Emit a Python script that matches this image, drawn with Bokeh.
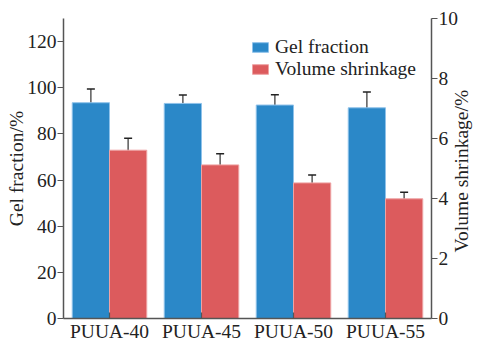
import math
from bokeh.plotting import figure
from bokeh.models import (ColumnDataSource, FactorRange, Range1d, LinearAxis,
                          Whisker, Legend, LegendItem, FixedTicker)
from bokeh.transform import dodge
from bokeh.embed import file_html
from bokeh.resources import INLINE

categories = ["PUUA-40", "PUUA-45", "PUUA-50", "PUUA-55"]
gel_fraction = [93.5, 93.2, 92.5, 91.3]
gel_err = [5.9, 3.7, 4.5, 6.8]
volume_shrinkage = [5.61, 5.12, 4.52, 3.99]
vol_err = [0.40, 0.37, 0.26, 0.22]
left_ticks = [0, 20, 40, 60, 80, 100, 120]
right_ticks = [0, 2, 4, 6, 8, 10]
right_title = "Volume shrinkage/%"

BLUE = "#2b88c8"
BLUE_EDGE = "#8fc2ea"
RED = "#dc5b5d"
RED_EDGE = "#eea3a4"
AX = "#555555"
ERR = "#222222"
FONT = "Liberation Serif"
FS = "19.5px"

src = ColumnDataSource(dict(
    cat=categories,
    gel=gel_fraction,
    gel_up=[v + e for v, e in zip(gel_fraction, gel_err)],
    gel_lo=[v - e for v, e in zip(gel_fraction, gel_err)],
    vol=volume_shrinkage,
    vol_up=[v + e for v, e in zip(volume_shrinkage, vol_err)],
    vol_lo=[v - e for v, e in zip(volume_shrinkage, vol_err)],
))

p = figure(x_range=FactorRange(*categories, range_padding=0),
           y_range=Range1d(0, 130),
           width=485, height=344, output_backend="svg", toolbar_location=None,
           min_border_left=63, min_border_right=44, min_border_top=18, min_border_bottom=23)
p.extra_y_ranges = {"right": Range1d(0, 10), "title": Range1d(0, 100)}

W = 0.405
off = 0.2025
r1 = p.vbar(x=dodge("cat", -off, range=p.x_range), top="gel", width=W, source=src,
            fill_color=BLUE, line_color=BLUE_EDGE, line_width=1)
r2 = p.vbar(x=dodge("cat", off, range=p.x_range), top="vol", width=W, source=src,
            fill_color=RED, line_color=RED_EDGE, line_width=1, y_range_name="right")

w1 = Whisker(source=src, base=dodge("cat", -off, range=p.x_range), upper="gel_up", lower="gel_lo",
             line_color=ERR, line_alpha=0.75, line_width=1.5)
w2 = Whisker(source=src, base=dodge("cat", off, range=p.x_range), upper="vol_up", lower="vol_lo",
             line_color=ERR, line_alpha=0.75, line_width=1.5, y_range_name="right")
for w in (w1, w2):
    w.upper_head.size = 8
    w.lower_head.size = 8
    w.upper_head.line_color = ERR
    w.lower_head.line_color = ERR
    w.upper_head.line_width = 1.5
    w.lower_head.line_width = 1.5
    p.add_layout(w)

ra = LinearAxis(y_range_name="right")
p.add_layout(ra, "right")

# second right axis that only carries the title as one rotated tick label
rt = LinearAxis(y_range_name="title", ticker=FixedTicker(ticks=[22]),
                major_label_overrides={22: right_title})
rt.major_label_orientation = math.pi / 2
rt.axis_line_color = None
rt.major_tick_out = 0
rt.major_tick_in = 0
rt.major_tick_line_color = None
rt.minor_tick_line_color = None
rt.major_label_standoff = 0
rt.major_label_text_font = FONT
rt.major_label_text_font_size = FS
rt.major_label_text_color = "#222222"
p.add_layout(rt, "right")

p.yaxis[0].axis_label = "Gel fraction/%"
p.yaxis[0].ticker = FixedTicker(ticks=left_ticks)
ra.ticker = FixedTicker(ticks=right_ticks)

for ax in [p.yaxis[0], ra, p.xaxis[0]]:
    ax.axis_line_color = AX
    ax.axis_line_width = 1.5
    ax.major_tick_line_color = AX
    ax.major_tick_line_width = 1.2
    ax.minor_tick_line_color = None
    ax.major_label_text_font = FONT
    ax.major_label_text_font_size = FS
    ax.major_label_text_color = "#222222"
    ax.axis_label_text_font = FONT
    ax.axis_label_text_font_size = FS
    ax.axis_label_text_font_style = "normal"
    ax.axis_label_text_color = "#222222"
    ax.major_label_standoff = 2
    ax.axis_label_standoff = 0

for ax in [p.yaxis[0], ra]:
    ax.major_tick_out = 6
    ax.major_tick_in = 0
p.yaxis[0].major_label_standoff = 1
p.yaxis[0].axis_label_standoff = -3
ra.major_label_standoff = 1
p.xaxis[0].major_tick_out = 0
p.xaxis[0].major_tick_in = 6
p.xaxis[0].major_label_standoff = 2

p.xgrid.grid_line_color = None
p.ygrid.grid_line_color = None
p.outline_line_color = None

legend = Legend(items=[LegendItem(label="Gel fraction", renderers=[r1]),
                       LegendItem(label="Volume shrinkage", renderers=[r2])],
                location=(187, 238), border_line_color=None, background_fill_alpha=0,
                label_text_font=FONT, label_text_font_size=FS, label_text_color="#222222",
                glyph_width=20, glyph_height=12, label_height=20, spacing=0, padding=0, margin=0,
                label_standoff=5)
p.add_layout(legend, "center")

open("out.html", "w").write(file_html(p, INLINE))
